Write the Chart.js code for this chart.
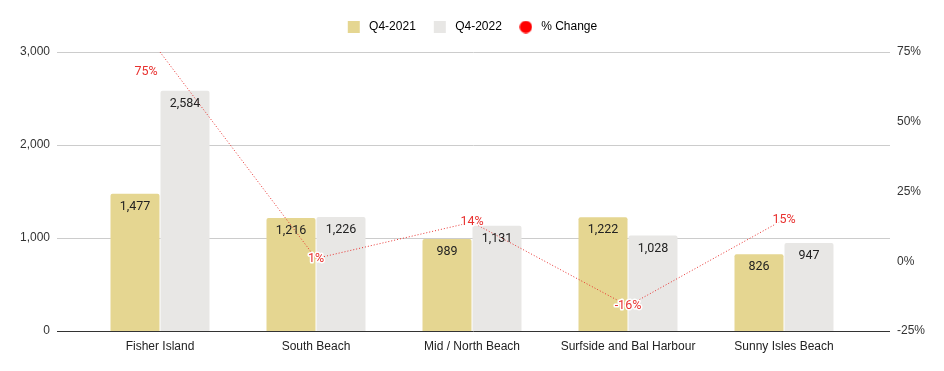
<!DOCTYPE html>
<html>
<head>
<meta charset="utf-8">
<script src="https://cdn.jsdelivr.net/npm/chart.js@4.4.1/dist/chart.umd.min.js"></script>
<style>
  html, body { margin: 0; padding: 0; background: #fff; }
  #wrap { width: 944px; height: 371px; position: relative; }
</style>
</head>
<body>
<div id="wrap"><canvas id="chart"></canvas></div>
<script>
// values
const areas = ['Fisher Island', 'South Beach', 'Mid / North Beach', 'Surfside and Bal Harbour', 'Sunny Isles Beach'];
const q4_2021 = [1477, 1216, 989, 1222, 826];
const q4_2022 = [2584, 1226, 1131, 1028, 947];
const pctChange = [75, 1, 14, -16, 15];

const YELLOW = '#E5D691';
const GREY = '#E8E7E5';
const RED = '#E8312F';

Chart.defaults.font.family = '"Liberation Sans", Arial, sans-serif';
Chart.defaults.font.size = 12;
Chart.defaults.color = '#333';

// small red dot for the legend (built-in circle is too big next to the squares)
const dot = document.createElement('canvas');
dot.width = 13; dot.height = 13;
(function () {
  const c = dot.getContext('2d');
  c.fillStyle = '#FF0000';
  c.beginPath();
  c.arc(6.5, 6.5, 6.2, 0, Math.PI * 2);
  c.fill();
})();

// a bit more room under the legend
const legendSpacer = {
  id: 'legendSpacer',
  beforeInit(chart) {
    const fit = chart.legend.fit;
    chart.legend.fit = function () {
      fit.bind(chart.legend)();
      this.height += 9;
    };
  }
};

// horizontal gridlines a bit wider than the plot, like the sheets chart
const gridPlugin = {
  id: 'wideGrid',
  beforeDatasetsDraw(chart) {
    const { ctx, chartArea, scales } = chart;
    ctx.save();
    ctx.strokeStyle = '#ccc';
    ctx.lineWidth = 1;
    scales.y.ticks.forEach(t => {
      if (t.value === 0) return;
      const y = Math.round(scales.y.getPixelForValue(t.value)) + 0.5;
      ctx.beginPath();
      ctx.moveTo(chartArea.left - 25, y);
      ctx.lineTo(chartArea.right + 28, y);
      ctx.stroke();
    });
    ctx.restore();
  },
  afterDatasetsDraw(chart) {
    const { ctx, chartArea, scales } = chart;
    const y = Math.round(scales.y.getPixelForValue(0)) + 0.5;
    ctx.save();
    ctx.strokeStyle = '#333';
    ctx.lineWidth = 1;
    ctx.beginPath();
    ctx.moveTo(chartArea.left - 25, y);
    ctx.lineTo(chartArea.right + 28, y);
    ctx.stroke();
    ctx.restore();
  }
};

// value labels on bars and on the % line
const labelPlugin = {
  id: 'valueLabels',
  afterDatasetsDraw(chart) {
    const { ctx, chartArea } = chart;
    ctx.save();
    ctx.font = '12.5px Roboto, "Liberation Sans", sans-serif';
    ctx.textAlign = 'center';
    ctx.textBaseline = 'middle';

    [0, 1].forEach(di => {
      const meta = chart.getDatasetMeta(di);
      meta.data.forEach((el, i) => {
        const v = chart.data.datasets[di].data[i];
        ctx.fillStyle = '#222';
        ctx.fillText(v.toLocaleString('en-US'), el.x, el.y + 13);
      });
    });

    const lineMeta = chart.getDatasetMeta(2);
    lineMeta.data.forEach((el, i) => {
      let x = el.x, y = el.y;
      if (y - 7 < chartArea.top) { x -= 14; y += 20; } // no room above the plot
      const txt = chart.data.datasets[2].data[i] + '%';
      ctx.lineWidth = 3;
      ctx.strokeStyle = '#fff';
      ctx.lineJoin = 'round';
      ctx.strokeText(txt, x, y);
      ctx.fillStyle = RED;
      ctx.fillText(txt, x, y);
    });
    ctx.restore();
  }
};

new Chart(document.getElementById('chart'), {
  type: 'bar',
  data: {
    labels: areas,
    datasets: [
      {
        label: 'Q4-2021',
        data: q4_2021,
        backgroundColor: YELLOW,
        borderRadius: { topLeft: 2, topRight: 2 },
        borderSkipped: 'bottom',
        categoryPercentage: 0.641,
        barPercentage: 0.98,
        yAxisID: 'y',
        order: 1
      },
      {
        label: 'Q4-2022',
        data: q4_2022,
        backgroundColor: GREY,
        borderRadius: { topLeft: 2, topRight: 2 },
        borderSkipped: 'bottom',
        categoryPercentage: 0.641,
        barPercentage: 0.98,
        yAxisID: 'y',
        order: 1
      },
      {
        type: 'line',
        label: '% Change',
        data: pctChange,
        borderColor: RED,
        backgroundColor: RED,
        borderWidth: 1,
        borderDash: [1, 2],
        pointRadius: 0,
        tension: 0,
        fill: false,
        clip: false,
        yAxisID: 'y1',
        order: 0
      }
    ]
  },
  options: {
    responsive: true,
    maintainAspectRatio: false,
    animation: false,
    layout: { padding: { left: 20, right: 19, top: 3, bottom: 18 } },
    plugins: {
      tooltip: { enabled: false },
      legend: {
        position: 'top',
        align: 'center',
        labels: {
          usePointStyle: true,
          boxWidth: 12,
          boxHeight: 12,
          padding: 18,
          color: '#333',
          font: { size: 12 },
          generateLabels(chart) {
            return chart.data.datasets.map((ds, i) => ({
              text: ' ' + ds.label,
              fillStyle: ds.backgroundColor,
              strokeStyle: ds.backgroundColor,
              lineWidth: 0,
              pointStyle: i === 2 ? dot : 'rect',
              hidden: false,
              datasetIndex: i
            }));
          }
        }
      }
    },
    scales: {
      x: {
        grid: { display: false, drawTicks: false },
        border: { display: false },
        ticks: { color: '#222', padding: 8, maxRotation: 0, autoSkip: false },
        afterFit(scale) { scale.height = 22; }
      },
      y: {
        position: 'left',
        min: 0,
        max: 3000,
        // label offset comes from the (hidden) tick length so the
        // axis padding doesn't eat into the plot height
        grid: { display: false, drawTicks: true, tickLength: 27 },
        border: { display: false },
        ticks: {
          stepSize: 1000,
          padding: 5,
          color: '#333',
          callback: v => v.toLocaleString('en-US')
        },
        afterFit(scale) { scale.width = 62; }
      },
      y1: {
        position: 'right',
        min: -25,
        max: 75,
        grid: { display: false, drawTicks: true, tickLength: 30 },
        border: { display: false },
        ticks: {
          stepSize: 25,
          padding: 5,
          color: '#333',
          callback: v => v + '%'
        },
        afterFit(scale) { scale.width = 63; }
      }
    }
  },
  plugins: [legendSpacer, gridPlugin, labelPlugin]
});
</script>
</body>
</html>
